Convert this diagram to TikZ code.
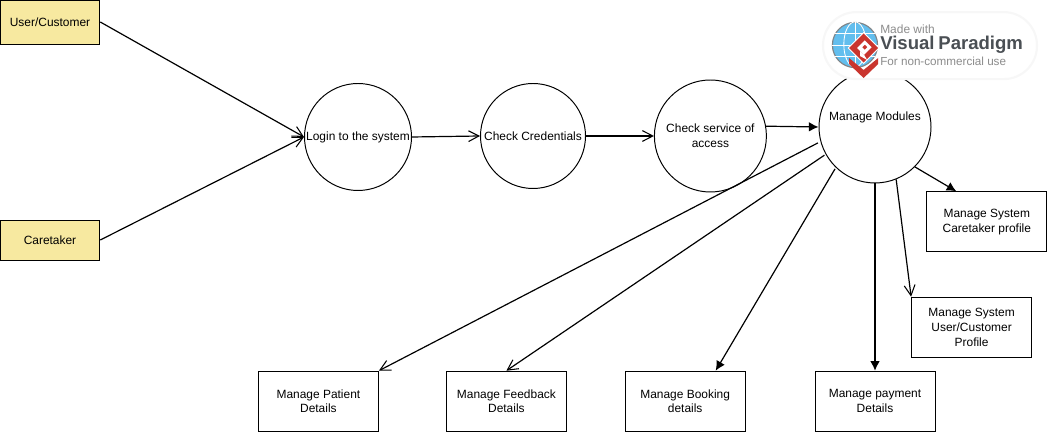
\documentclass[tikz,border=0pt]{standalone}
\usepackage{fontspec}
\setmainfont{Liberation Sans}
\usepackage{xcolor}
\usetikzlibrary{shapes,arrows.meta,calc,positioning}
\definecolor{actorfill}{HTML}{F7E9A0}
\definecolor{vpred}{HTML}{C9352E}
\definecolor{vpblue}{HTML}{62BEEE}
\definecolor{vpgray}{HTML}{8C8C8C}
\definecolor{vpdark}{HTML}{4A4F54}
\tikzset{>=latex}
\tikzset{
  every node/.style={font=\fontsize{8.5}{10.6}\selectfont},
  actor/.style={draw, fill=actorfill, line width=0.7pt, minimum width=2.49cm, align=center, inner sep=0pt},
  proc/.style={draw, circle, line width=0.7pt, inner sep=0pt, align=center},
  modbox/.style={draw, line width=0.7pt, minimum width=3cm, minimum height=1.5cm, align=center, inner sep=0pt},
  openline/.style={-{Straight Barb[length=2.6mm,width=2.7mm,line width=0.75pt]}, line width=0.85pt},
  fillline/.style={-{Latex[length=2.4mm,width=2.4mm]}, line width=0.85pt},
}
\begin{document}
\begin{tikzpicture}
\useasboundingbox (0,0) rectangle (26.175,10.8);
\node[actor, minimum height=1.1cm] (a1) at (1.25,10.25) {User/Customer};
\node[actor, minimum height=1cm] (a2) at (1.25,4.8) {Caretaker};
\node[proc, minimum size=2.675cm] (p1) at (8.95,7.375) {Login to the system};
\node[proc, minimum size=2.625cm] (p2) at (13.325,7.4) {Check Credentials};
\node[proc, minimum size=2.8cm] (p3) at (17.76,7.4) {Check service of\\access};
\node[proc, minimum size=2.8cm] (p4) at (21.875,7.625) {Manage Modules\\[0.5em]\phantom{x}};
\node[modbox] (m1) at (7.96,0.77) {Manage Patient\\Details};
\node[modbox] (m2) at (12.66,0.77) {Manage Feedback\\Details};
\node[modbox] (m3) at (17.13,0.77) {Manage Booking\\details};
\node[modbox] (m4) at (21.875,0.77) {Manage payment\\Details};
\node[modbox] (m5) at (24.29,2.62) {Manage System\\User/Customer\\Profile};
\node[modbox] (m6) at (24.67,5.255) {Manage System\\Caretaker profile};
\draw[openline] (a1.east) -- (p1.west);
\draw[openline] (a2.east) -- (p1.west);
\draw[openline] (p1.east) -- (p2.west);
\draw[openline] (p2.east) -- (p3.west);
\draw[fillline] (p3.10) -- (p4.west);
\draw[openline, shorten <=2pt] (p4.195) -- (m1.north east);
\draw[openline, shorten <=1pt] (p4.209) -- (m2.north);
\draw[fillline, shorten <=1pt] (p4.226) -- (m3.45);
\draw[fillline] (p4.south) -- (m4.north);
\draw[openline] (p4.-68) -- (m5.north west);
\draw[fillline] (p4.-45) -- (m6.135);
\node[draw=black!3, fill=white, rounded corners=0.83cm, line width=1.5pt, minimum width=5.35cm, minimum height=1.675cm] (vp) at (23.25,9.66) {};
\node[circle, draw=vpdark!70, fill=vpblue, line width=0.8pt, minimum size=1.13cm, inner sep=0pt] (vpglobe) at (21.375,9.675) {};
\draw[white, line width=0.6pt] (vpglobe.west) -- (vpglobe.east) (vpglobe.north) -- (vpglobe.south);
\draw[white, line width=0.6pt] (vpglobe.north) arc[start angle=90, end angle=270, x radius=0.28cm, y radius=0.565cm];
\draw[white, line width=0.6pt] (vpglobe.north) arc[start angle=90, end angle=-90, x radius=0.28cm, y radius=0.565cm];
\draw[white, line width=0.6pt] (vpglobe.150) -- (vpglobe.30) (vpglobe.210) -- (vpglobe.-30);
\fill[vpred] (21.225,9.35) -- (21.59,9.05) -- (21.955,9.35) -- (21.955,9.2) -- (21.59,8.85) -- (21.225,9.2) -- cycle;
\fill[white] (21.19,9.6) -- (21.59,10.0) -- (21.99,9.6) -- (21.59,9.2) -- cycle;
\fill[vpred] (21.225,9.6) -- (21.59,9.965) -- (21.955,9.6) -- (21.59,9.235) -- cycle;
\fill[white] (21.43,9.6) -- (21.62,9.79) -- (21.79,9.62) -- (21.6,9.43) -- cycle;
\fill[white] (21.5,9.53) -- (21.6,9.43) -- (21.68,9.3) -- (21.5,9.4) -- cycle;
\fill[vpred] (21.56,9.62) -- (21.62,9.68) -- (21.68,9.62) -- (21.62,9.56) -- cycle;
\node[anchor=west, inner sep=0pt, text=vpgray, font=\fontsize{8.5}{10}\selectfont] (vp1) at (22.0,10.075) {Made with};
\node[anchor=west, inner sep=0pt, text=vpdark, font=\fontsize{13.2}{15}\bfseries\selectfont] (vp2) at (22.0,9.675) {Visual\hspace{-1pt} Paradigm};
\node[anchor=west, inner sep=0pt, text=vpgray, font=\fontsize{8.3}{10}\selectfont] (vp3) at (22.0,9.275) {For non-commercial use};
\end{tikzpicture}
\end{document}
